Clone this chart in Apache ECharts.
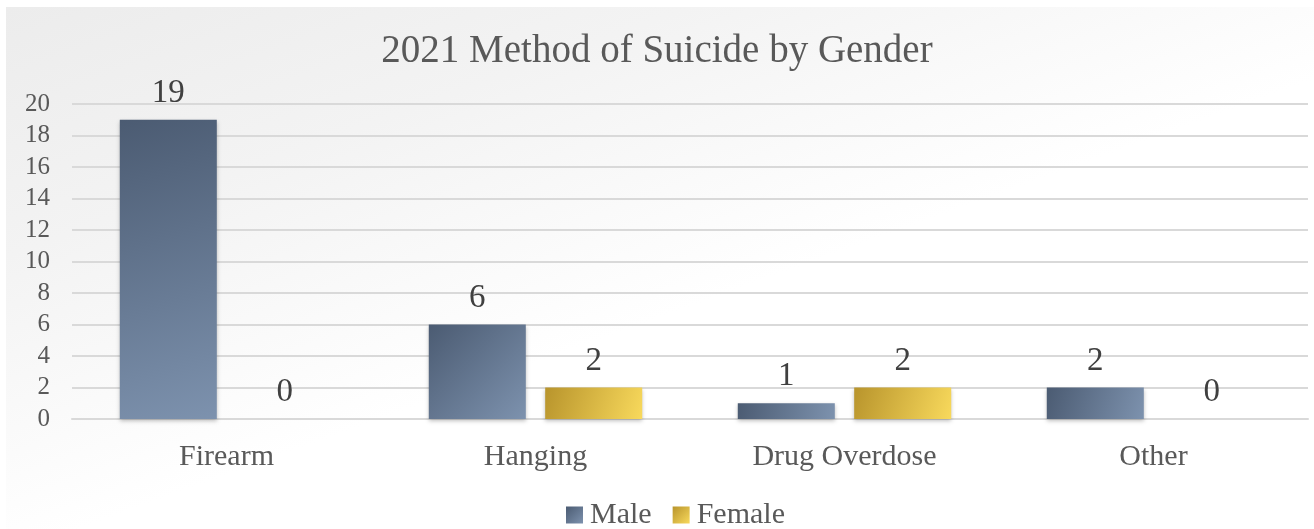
<!DOCTYPE html>
<html><head><meta charset="utf-8">
<script src="https://cdn.jsdelivr.net/npm/echarts@6/dist/echarts.min.js"></script>
<style>
html,body{margin:0;padding:0;background:#fff;}
#bg{position:absolute;left:6px;top:7px;width:1308px;height:522px;background:linear-gradient(160deg,#ececec 0%,#f3f3f3 25%,#ffffff 55%,#ffffff 100%);}
#c{position:absolute;left:0;top:0;width:1314px;height:529px;}
</style></head>
<body><div id="bg"></div><div id="c"></div>
<script>
const categories = ['Firearm','Hanging','Drug Overdose','Other'];
const male = [19, 6, 1, 2];
const female = [0, 2, 2, 0];
const yTicks = [0,2,4,6,8,10,12,14,16,18,20];

const chart = echarts.init(document.getElementById('c'));
const font = '"Liberation Serif", "DejaVu Serif", serif';
const maleGrad = new echarts.graphic.LinearGradient(0,0,1,1,[{offset:0,color:'#4b5b72'},{offset:1,color:'#7d92ae'}]);
const femGrad = new echarts.graphic.LinearGradient(0,0,1,1,[{offset:0,color:'#b8942c'},{offset:1,color:'#f8d95c'}]);
chart.setOption({
  backgroundColor:'transparent',
  title:{text:'2021 Method of Suicide by Gender',left:'center',top:27,textStyle:{fontFamily:font,fontSize:39,fontWeight:'normal',color:'#595959'}},
  grid:{left:72,right:6,top:104,bottom:110,containLabel:false},
  legend:{top:495,left:561,itemWidth:17,itemHeight:17,itemGap:21,icon:'rect',
    textStyle:{fontFamily:font,fontSize:30,color:'#595959',padding:[0,0,0,2]},data:['Male','Female']},
  xAxis:{type:'category',data:categories,axisTick:{show:false},
    axisLine:{lineStyle:{color:'#d9d9d9',width:2}},
    axisLabel:{fontFamily:font,fontSize:30,color:'#595959',margin:23}},
  yAxis:{type:'value',min:0,max:20,interval:2,
    axisLabel:{fontFamily:font,fontSize:25,color:'#595959',margin:22,formatter:v=>yTicks.includes(v)?String(v):''},
    splitLine:{lineStyle:{color:'#d9d9d9',width:2}},axisLine:{show:false},axisTick:{show:false}},
  series:[
    {name:'Male',type:'bar',data:male,barWidth:97,barGap:'20%',
     itemStyle:{color:maleGrad,shadowColor:'rgba(0,0,0,0.25)',shadowBlur:4,shadowOffsetY:2},
     label:{show:true,position:'top',distance:10,fontFamily:font,fontSize:33,color:'#404040'}},
    {name:'Female',type:'bar',data:female,barWidth:97,
     itemStyle:{color:femGrad,shadowColor:'rgba(0,0,0,0.25)',shadowBlur:4,shadowOffsetY:2},
     label:{show:true,position:'top',distance:10,fontFamily:font,fontSize:33,color:'#404040'}}
  ]
});
</script></body></html>
